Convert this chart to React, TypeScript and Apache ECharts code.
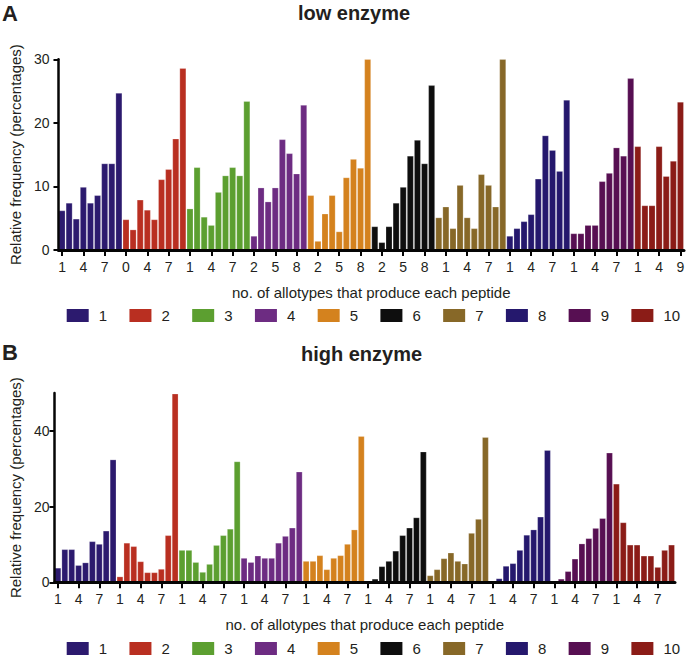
import React, { useEffect, useRef } from 'react';
import * as echarts from 'echarts';

const groupNames = ['1', '2', '3', '4', '5', '6', '7', '8', '9', '10'];
const groupColors = ['#2c1a6e', '#b92f21', '#5c9f30', '#6d2c82', '#d4821e', '#0e0e0e', '#876828', '#25186d', '#570f52', '#8b1c17'];

// Panel A: low enzyme
const low1 = [6.2, 7.4, 4.9, 9.9, 7.4, 8.6, 13.6, 13.6, 24.7];
const low2 = [4.8, 3.2, 7.9, 6.3, 4.8, 11.1, 12.7, 17.5, 28.6];
const low3 = [6.5, 13.0, 5.2, 3.9, 9.1, 11.7, 13.0, 11.7, 23.4];
const low4 = [2.2, 9.8, 7.6, 9.8, 17.4, 15.2, 12.0, 22.8];
const low5 = [8.6, 1.4, 5.7, 8.6, 2.9, 11.4, 14.3, 12.9, 30.0];
const low6 = [3.7, 1.2, 3.7, 7.4, 9.9, 14.8, 17.3, 13.6, 25.9];
const low7 = [5.1, 6.8, 3.4, 10.2, 5.1, 3.4, 11.9, 10.2, 6.8, 30.0];
const low8 = [2.2, 3.4, 4.5, 5.6, 11.2, 18.0, 15.7, 12.4, 23.6];
const low9 = [2.6, 2.6, 3.9, 3.9, 10.8, 12.1, 16.1, 14.8, 27.0];
const low10 = [16.3, 7.0, 7.0, 16.3, 11.6, 14.0, 23.3];
const lowTickLabels = ['1', '4', '7', '0', '4', '7', '1', '4', '7', '2', '5', '8', '2', '5', '8', '2', '5', '8', '1', '4', '7', '1', '4', '7', '1', '4', '7', '1', '4', '9'];

// Panel B: high enzyme
const high1 = [3.8, 8.7, 8.7, 4.5, 5.2, 10.8, 10.1, 13.6, 32.4];
const high2 = [1.5, 10.4, 9.5, 5.5, 2.6, 2.6, 3.5, 12.4, 49.8];
const high3 = [8.5, 8.5, 5.3, 2.7, 4.8, 9.8, 12.4, 14.1, 31.9];
const high4 = [6.4, 5.3, 7.0, 6.4, 6.4, 10.4, 12.2, 14.4, 29.2];
const high5 = [5.6, 5.6, 7.1, 3.4, 6.4, 7.1, 10.1, 13.9, 38.6];
const high6 = [0.3, 0.9, 4.2, 5.6, 8.3, 12.4, 14.4, 17.1, 34.5];
const high7 = [1.8, 3.4, 6.3, 7.8, 5.6, 4.9, 13.0, 16.7, 38.3];
const high8 = [0.4, 1.0, 4.3, 5.0, 8.5, 12.5, 13.9, 17.3, 34.9];
const high9 = [0.4, 0.9, 2.9, 6.2, 10.2, 11.6, 14.3, 16.9, 34.2];
const high10 = [26.0, 15.8, 9.9, 9.9, 7.0, 7.0, 4.0, 8.5, 9.9];
const highTickLabels = ['1', '4', '7', '1', '4', '7', '1', '4', '7', '1', '4', '7', '1', '4', '7', '1', '4', '7', '1', '4', '7', '1', '4', '7', '1', '4', '7', '1', '4', '7'];

const lowGroups = [low1, low2, low3, low4, low5, low6, low7, low8, low9, low10];
const highGroups = [high1, high2, high3, high4, high5, high6, high7, high8, high9, high10];

const FONT = 'Liberation Sans, Arial, Helvetica, sans-serif';
const TXT = '#231f20';
const AXIS = '#050505';

function buildCats(groups: number[][], prefix: string) {
  const cats: string[] = [];
  groups.forEach((g, gi) => g.forEach((_, j) => cats.push(`${prefix}${gi + 1}-${j + 1}`)));
  return cats;
}

function buildSeries(groups: number[][], axisIndex: number, stack: string) {
  const total = groups.reduce((s, g) => s + g.length, 0);
  let offset = 0;
  return groups.map((g, gi) => {
    const data: (number | string)[] = new Array(total).fill('-');
    g.forEach((v, j) => { data[offset + j] = v; });
    offset += g.length;
    const s: any = {
      type: 'bar',
      name: groupNames[gi],
      xAxisIndex: axisIndex,
      yAxisIndex: axisIndex,
      stack,
      data,
      barWidth: '92%',
      itemStyle: { color: groupColors[gi], borderColor: 'rgba(255,255,255,0.45)', borderWidth: 0.5 },
    };
    if (gi === groups.length - 1) {
      s.markLine = {
        silent: true,
        symbol: ['none', 'none'],
        label: { show: false },
        lineStyle: { color: AXIS, width: 3, type: 'solid' },
        data: [{ yAxis: 0 }],
      };
    }
    return s;
  });
}

function xAxisCfg(grid: number, cats: string[], labels: string[], gap: number) {
  return {
    type: 'category',
    gridIndex: grid,
    data: cats,
    z: 10,
    axisLine: { show: true, onZero: false, lineStyle: { color: AXIS, width: 3, opacity: 1 } },
    axisTick: { show: true, alignWithLabel: true, interval: 2, length: 6, lineStyle: { width: 2, color: AXIS, opacity: 1 } },
    axisLabel: {
      show: true,
      interval: 2,
      formatter: (_v: string, i: number) => (i % 3 === 0 ? labels[i / 3] : ''),
      fontSize: 14, color: TXT, margin: 10, fontFamily: FONT,
    },
    name: 'no. of allotypes that produce each peptide',
    nameLocation: 'middle',
    nameGap: gap,
    nameTextStyle: { fontSize: 15, color: TXT, fontFamily: FONT },
  };
}

function yAxisCfg(grid: number, max: number, interval: number, ticks: number[], margin: number, gap: number) {
  return {
    type: 'value',
    gridIndex: grid,
    min: 0,
    max,
    interval,
    z: 10,
    splitLine: { show: false },
    axisLine: { show: true, lineStyle: { color: AXIS, width: 2.5 } },
    axisTick: { show: true, length: 5, customValues: ticks, lineStyle: { width: 2, color: AXIS } },
    axisLabel: { fontSize: 14, color: TXT, margin, customValues: ticks, fontFamily: FONT },
    name: 'Relative frequency (percentages)',
    nameLocation: 'middle',
    nameGap: gap,
    nameTextStyle: { fontSize: 15, color: TXT, fontFamily: FONT },
  };
}

function legendCfg(top: number) {
  return {
    data: groupNames,
    left: 66.7,
    top,
    padding: 0,
    itemWidth: 22,
    itemHeight: 13,
    itemGap: 22.4,
    icon: 'rect',
    selectedMode: false,
    itemStyle: { borderWidth: 0 },
    textStyle: { fontSize: 15, color: TXT, fontFamily: FONT, padding: [0, 0, 0, 5] },
  };
}

export default function App() {
  const ref = useRef<HTMLDivElement>(null);
  useEffect(() => {
    if (!ref.current) return;
    const chart = echarts.init(ref.current, undefined, { renderer: 'svg' });
    const lowCats = buildCats(lowGroups, 'A');
    const highCats = buildCats(highGroups, 'B');
    chart.setOption({
      animation: false,
      textStyle: { fontFamily: FONT },
      grid: [
        { left: 58, top: 59.3, width: 626, height: 190.7 },
        { left: 50.5, top: 393, width: 624.5, height: 189.3 },
      ],
      xAxis: [
        xAxisCfg(0, lowCats, lowTickLabels, 34.5),
        xAxisCfg(1, highCats, highTickLabels, 35),
      ],
      yAxis: [
        yAxisCfg(0, 30, 10, [0, 10, 20, 30], 9, 31.5),
        yAxisCfg(1, 50, 10, [0, 20, 40], 5, 30),
      ],
      legend: [legendCfg(308), legendCfg(641)],
      graphic: [
        { type: 'text', x: 2, y: 13, style: { text: 'A', font: `bold 22px ${FONT}`, fill: TXT, textVerticalAlign: 'middle' } },
        { type: 'text', x: 354, y: 13, style: { text: 'low enzyme', font: `bold 20px ${FONT}`, fill: TXT, textAlign: 'center', textVerticalAlign: 'middle' } },
        { type: 'text', x: 2, y: 352, style: { text: 'B', font: `bold 22px ${FONT}`, fill: TXT, textVerticalAlign: 'middle' } },
        { type: 'text', x: 361.5, y: 354, style: { text: 'high enzyme', font: `bold 20px ${FONT}`, fill: TXT, textAlign: 'center', textVerticalAlign: 'middle' } },
      ],
      series: [...buildSeries(lowGroups, 0, 'A'), ...buildSeries(highGroups, 1, 'B')],
    });
    return () => chart.dispose();
  }, []);
  return <div ref={ref} style={{ position: 'absolute', left: 0, top: 0, width: 690, height: 656 }} />;
}
